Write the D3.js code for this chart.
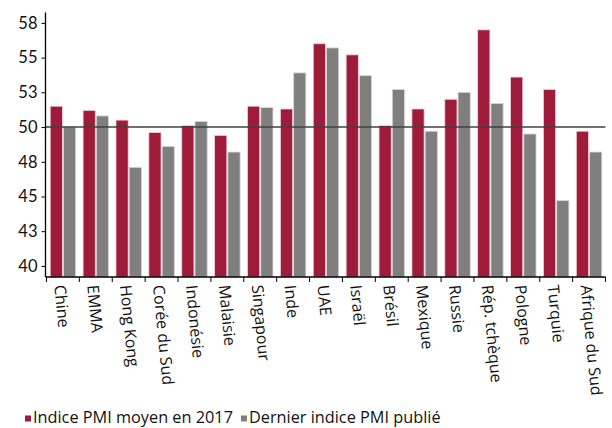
<!DOCTYPE html>
<html>
<head>
<meta charset="utf-8">
<script src="https://cdn.jsdelivr.net/npm/d3@7"></script>
<style>
  html, body { margin: 0; padding: 0; background: #fff; }
  svg { display: block; font-family: "Open Sans", "DejaVu Sans", sans-serif; }
</style>
</head>
<body>
<svg id="chart" width="612" height="428"></svg>
<script>
// PMI manufacturier : moyenne 2017 et dernier indice publié
const categories = ["Chine", "EMMA", "Hong Kong", "Corée du Sud", "Indonésie", "Malaisie",
  "Singapour", "Inde", "UAE", "Israël", "Brésil", "Mexique", "Russie", "Rép. tchèque",
  "Pologne", "Turquie", "Afrique du Sud"];
const pmiMoyen2017 = [51.5, 51.2, 50.5, 49.6, 50.1, 49.4, 51.5, 51.3, 56.0, 55.2, 50.1, 51.3, 52.0, 57.0, 53.6, 52.7, 49.7];
const pmiDernier   = [50.0, 50.8, 47.1, 48.6, 50.4, 48.2, 51.4, 53.9, 55.7, 53.7, 52.7, 49.7, 52.5, 51.7, 49.5, 44.7, 48.2];
const seriesNames = ["Indice PMI moyen en 2017", "Dernier indice PMI publié"];
const seriesColors = ["#9e1c39", "#7f7f7f"];
const seriesStrokes = ["#f0d0d8", "#d8d8d8"];
const yTickValues = [40, 42.5, 45, 47.5, 50, 52.5, 55, 57.5];
const yTickLabels = ["40", "43", "45", "48", "50", "53", "55", "58"];

const svg = d3.select("#chart");
const plotLeft = 45.5, plotRight = 605.5, plotTop = 12.5, plotBottom = 277;

const x = d3.scaleBand().domain(categories).range([plotLeft + 1, plotRight]).padding(0);
const x1 = d3.scaleBand().domain([0, 1]).range([0, x.bandwidth()])
  .paddingInner(0.08).paddingOuter(0.28);
const y = d3.scaleLinear().domain([39.2, 58.25]).range([plotBottom, plotTop]);

const rows = categories.map((c, i) => ({ cat: c, vals: [pmiMoyen2017[i], pmiDernier[i]] }));

// bars
const g = svg.append("g");
rows.forEach(r => {
  r.vals.forEach((v, s) => {
    g.append("rect")
      .attr("x", x(r.cat) + x1(s))
      .attr("y", y(v))
      .attr("width", x1.bandwidth())
      .attr("height", plotBottom - y(v))
      .attr("fill", seriesColors[s])
      .attr("stroke", seriesStrokes[s])
      .attr("stroke-width", 0.8);
  });
});

// reference line at 50
svg.append("line")
  .attr("x1", plotLeft).attr("x2", plotRight)
  .attr("y1", y(50)).attr("y2", y(50))
  .attr("stroke", "#404040").attr("stroke-width", 1.4);

// y axis
const yAxis = d3.axisLeft(y).tickValues(yTickValues)
  .tickFormat((d, i) => yTickLabels[i]).tickSize(4).tickPadding(4);
const gy = svg.append("g").attr("transform", `translate(${plotLeft},0)`).call(yAxis);
gy.select(".domain").attr("d", `M0,${plotTop}V${plotBottom}`).attr("stroke", "#000").attr("stroke-width", 1.3);
gy.selectAll(".tick line").attr("stroke", "#000");
gy.selectAll(".tick text").attr("font-size", 16.5).attr("fill", "#111")
  .attr("font-family", "Lato, 'Open Sans', sans-serif");

// x axis
svg.append("line").attr("x1", plotLeft).attr("x2", plotRight).attr("y1", plotBottom).attr("y2", plotBottom)
  .attr("stroke", "#000").attr("stroke-width", 1.3);
const bounds = categories.map(c => x(c)).concat([x(categories[categories.length - 1]) + x.bandwidth()]);
svg.append("g").selectAll("line").data(bounds).join("line")
  .attr("x1", d => d).attr("x2", d => d)
  .attr("y1", plotBottom).attr("y2", plotBottom + 5)
  .attr("stroke", "#000");

svg.append("g").selectAll("text").data(categories).join("text")
  .attr("transform", d => `translate(${x(d) + x.bandwidth() / 2 - 3},${plotBottom + 8}) rotate(84.5)`)
  .attr("dy", "0.35em")
  .attr("font-size", 16)
  .attr("fill", "#111")
  .text(d => d);

// legend
const legend = svg.append("g").attr("transform", "translate(25,423)");
let lx = 0;
seriesNames.forEach((name, i) => {
  const item = legend.append("g").attr("transform", `translate(${lx},0)`);
  item.append("rect").attr("x", 0).attr("y", -7.5).attr("width", 6).attr("height", 6)
    .attr("fill", seriesColors[i]);
  const t = item.append("text").attr("x", 8).attr("y", 0).attr("font-size", 16.3)
    .attr("fill", "#111").text(name);
  lx += 8 + t.node().getComputedTextLength() + 8;
});
</script>
</body>
</html>
